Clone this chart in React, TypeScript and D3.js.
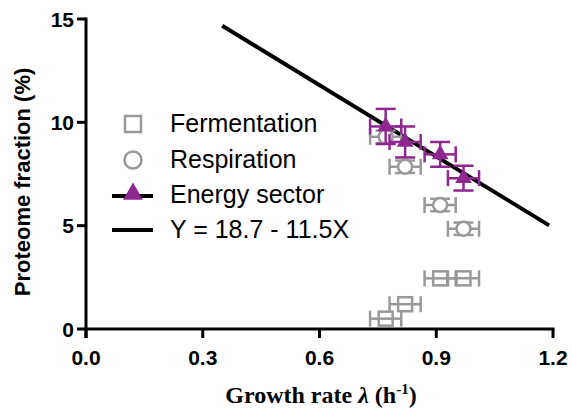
import React from 'react';
import * as d3 from 'd3';

// growth rates (h^-1) for the four conditions
const growth = [0.77, 0.82, 0.91, 0.97];
const growthErr = [0.04, 0.04, 0.04, 0.04];
const fermentation = [0.5, 1.2, 2.45, 2.45];
const respiration = [9.3, 7.85, 6.0, 4.85];
const respirationErr = [0.3, 0.3, 0.3, 0.3];
const energy = [9.8, 9.05, 8.45, 7.3];
const energyErr = [0.85, 0.75, 0.6, 0.6];
const xTicks = [0, 0.3, 0.6, 0.9, 1.2];
const yTicks = [0, 5, 10, 15];
const fitRange = [0.35, 1.19];
const fit = (x: number) => 18.7 - 11.5 * x;

const W = 572;
const H = 410;
const gray = '#999999';
const purple = '#8e2790';

const App = () => {
  const x = d3.scaleLinear().domain([0, 1.2]).range([86, 553]);
  const y = d3.scaleLinear().domain([0, 15]).range([329, 19]);

  const line = d3.line<number>().x(d => x(d)).y(d => y(fit(d)));

  const tri = d3.symbol().type(d3.symbolTriangle).size(120)();
  const triBig = d3.symbol().type(d3.symbolTriangle).size(170)();

  // horizontal + vertical error bars with caps
  const errBars = (cx: number, cy: number, ex: number, ey: number, color: string, key: string) => {
    const x0 = x(cx - ex), x1 = x(cx + ex);
    const y0 = y(cy - ey), y1 = y(cy + ey);
    const px = x(cx), py = y(cy);
    return (
      <g key={key} stroke={color} strokeWidth={2.5} fill="none">
        <line x1={x0} x2={x1} y1={py} y2={py} />
        <line x1={x0} x2={x0} y1={py - 8} y2={py + 8} />
        <line x1={x1} x2={x1} y1={py - 8} y2={py + 8} />
        {ey > 0 && (
          <>
            <line x1={px} x2={px} y1={y0} y2={y1} />
            <line x1={px - 10} x2={px + 10} y1={y0} y2={y0} />
            <line x1={px - 10} x2={px + 10} y1={y1} y2={y1} />
          </>
        )}
      </g>
    );
  };

  const font = 'Arial, "Liberation Sans", sans-serif';

  return (
    <svg width={W} height={H} style={{ position: 'absolute', left: 0, top: 0 }}>
      <rect width={W} height={H} fill="white" />

      {/* fit line */}
      <path d={line(fitRange) || ''} stroke="black" strokeWidth={4} fill="none" />

      {/* fermentation */}
      {growth.map((g, i) => (
        <g key={'f' + i}>
          {errBars(g, fermentation[i], growthErr[i], 0, gray, 'fe' + i)}
          <rect x={x(g) - 7} y={y(fermentation[i]) - 7} width={14} height={14}
            fill="none" stroke={gray} strokeWidth={2.5} />
        </g>
      ))}

      {/* respiration */}
      {growth.map((g, i) => (
        <g key={'r' + i}>
          {errBars(g, respiration[i], growthErr[i], respirationErr[i], gray, 're' + i)}
          <circle cx={x(g)} cy={y(respiration[i])} r={7}
            fill="white" stroke={gray} strokeWidth={2.5} />
        </g>
      ))}

      {/* energy sector */}
      {growth.map((g, i) => (
        <g key={'e' + i}>
          {errBars(g, energy[i], growthErr[i], energyErr[i], purple, 'ee' + i)}
          <path d={tri || ''} transform={`translate(${x(g)},${y(energy[i])})`} fill={purple} />
        </g>
      ))}

      {/* axes */}
      <g stroke="black" strokeWidth={3}>
        <line x1={x(0)} x2={x(0)} y1={y(15) - 1.5} y2={y(0) + 9} />
        <line x1={x(0) - 1.5} x2={x(1.2) + 1.5} y1={y(0)} y2={y(0)} />
        {yTicks.map(t => (
          <line key={'yt' + t} x1={x(0) - 9} x2={x(0)} y1={y(t)} y2={y(t)} />
        ))}
        {xTicks.map(t => (
          <line key={'xt' + t} x1={x(t)} x2={x(t)} y1={y(0)} y2={y(0) + 9} />
        ))}
      </g>
      <g fontFamily={font} fontWeight="bold" fontSize={21}>
        {yTicks.map(t => (
          <text key={'yl' + t} x={x(0) - 12} y={y(t)} dy="0.36em" textAnchor="end">{t}</text>
        ))}
        {xTicks.map(t => (
          <text key={'xl' + t} x={x(t)} y={y(0) + 36} textAnchor="middle">{d3.format('.1f')(t)}</text>
        ))}
      </g>

      <text transform={`translate(30,${y(7.5) + 8}) rotate(-90)`} textAnchor="middle"
        fontFamily={font} fontWeight="bold" fontSize={22}>Proteome fraction (%)</text>

      <text x={321} y={403} textAnchor="middle" fontFamily='"Liberation Serif", "Times New Roman", serif'
        fontWeight="bold" fontSize={24}>
        Growth rate <tspan fontStyle="italic">λ</tspan> (h<tspan dy={-9} fontSize={15}>-1</tspan><tspan dy={9}>)</tspan>
      </text>

      {/* legend */}
      <g fontFamily={font} fontSize={25}>
        <rect x={125} y={116} width={16} height={16} fill="none" stroke={gray} strokeWidth={2.5} />
        <text x={170} y={132}>Fermentation</text>
        <circle cx={133} cy={160} r={8.5} fill="none" stroke={gray} strokeWidth={2.5} />
        <text x={170} y={168}>Respiration</text>
        <line x1={112} x2={153} y1={196} y2={196} stroke="black" strokeWidth={4} />
        <path d={triBig || ''} transform="translate(133,194)" fill={purple} />
        <text x={170} y={203}>Energy sector</text>
        <line x1={112} x2={153} y1={230} y2={230} stroke="black" strokeWidth={4} />
        <text x={170} y={238}>Y = 18.7 - 11.5X</text>
      </g>
    </svg>
  );
};

export default App;
